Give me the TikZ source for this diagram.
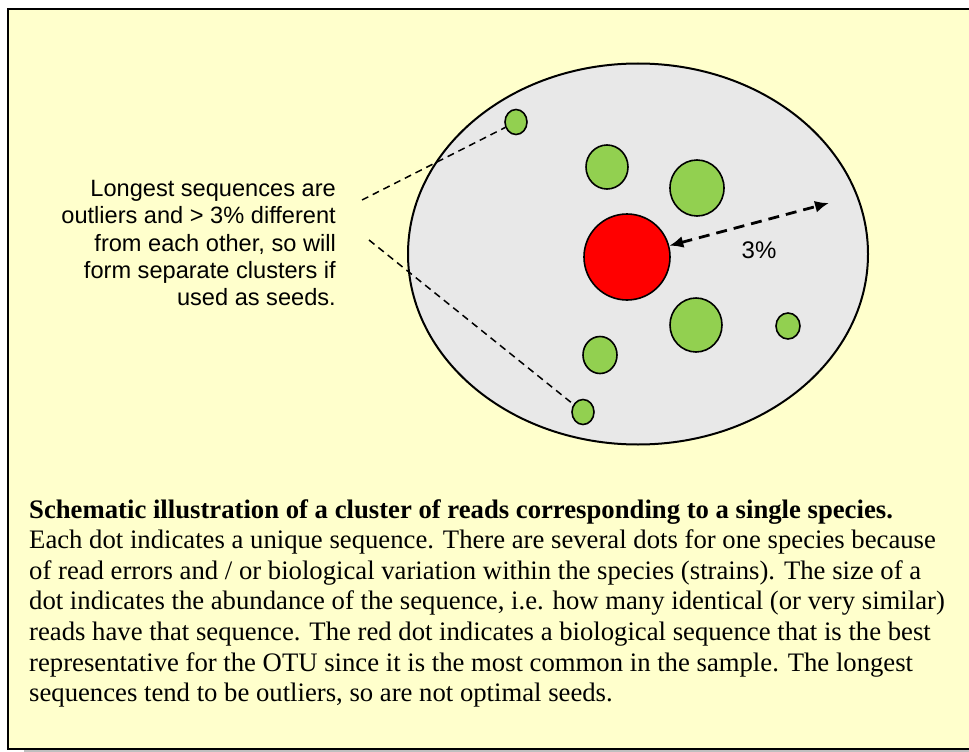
\documentclass[tikz,border=0pt]{standalone}
\usepackage{fontspec}
\setmainfont{Liberation Serif}
\newfontfamily\arialfont{Liberation Sans}
\usetikzlibrary{positioning, arrows.meta, shapes.geometric}

\definecolor{notebg}{HTML}{FFFFCC}
\definecolor{clustergray}{HTML}{E8E8E8}
\definecolor{readgreen}{HTML}{92D050}

\begin{document}
\begin{tikzpicture}[
        x=1pt, y=-1pt,
        seqdot/.style={
            draw, 
            ellipse,
            line width=1.6pt,
            fill=readgreen,
            inner sep=0pt
        },
        leader/.style={
            line width=1.5pt,
            dash pattern=on 7pt off 5pt
        },
        dimarrow/.style={
            line width=2.8pt,
            dash pattern=on 11pt off 7pt,
            {Latex[length=14pt,width=12pt]}-{Latex[length=14pt,width=12pt]}
        }
    ]
        \useasboundingbox (0,0) rectangle (969,752);

        % Note background with shadow
        \fill[gray!50] (24,749) rectangle (975,752);
        \draw[fill=notebg, line width=2.2pt] (8,9) rectangle (975,749);

        % The cluster
        \node[draw, ellipse, line width=2pt, fill=clustergray,
              minimum width=460pt, minimum height=381pt] (cluster) at (638,254) {};

        % Centroid and the other reads
        \node[seqdot, fill=red, minimum width=86pt, minimum height=86pt] (centroid) at (627,257) {};
        \node[seqdot, minimum width=22pt, minimum height=25pt] (far1) at (516,122) {};
        \node[seqdot, minimum width=42pt, minimum height=44pt] (read1) at (607,167) {};
        \node[seqdot, minimum width=54pt, minimum height=56pt] (read2) at (697,188) {};
        \node[seqdot, minimum width=52pt, minimum height=54pt] (read3) at (696,325) {};
        \node[seqdot, minimum width=24pt, minimum height=26pt] (read4) at (788,326) {};
        \node[seqdot, minimum width=34pt, minimum height=37pt] (read5) at (600,355) {};
        \node[seqdot, minimum width=22pt, minimum height=25pt] (far2) at (583,412) {};

        % 3% radius
        \coordinate (rim) at (829,203);
        \draw[dimarrow] (centroid) -- (rim);
        \node[font=\arialfont\fontsize{24}{28}\selectfont] (pct) at (759,250) {3\%};

        % Text about the outliers
        \node[font=\arialfont\fontsize{23.6}{27.2}\selectfont, align=right, anchor=east,
              inner sep=0pt] (outliertext) at (336,243)
            {Longest sequences are\\ outliers and > 3\% different\\ from each other, so will\\
             form separate clusters if\\ used as seeds.};
        \coordinate (lead1) at (362,200);
        \coordinate (lead2) at (369,240);
        \draw[leader] (lead1) -- (far1);
        \draw[leader] (lead2) -- (far2);

        % Caption
        \node[font=\fontsize{26.7}{30.6}\selectfont, align=left, anchor=north west,
              inner sep=0pt] (caption) at (29,499)
            {\textbf{Schematic illustration of a cluster of reads corresponding to a single species.}\\
             Each dot indicates a unique sequence. There are several dots for one species because\\
             of read errors and / or biological variation within the species (strains). The size of a\\
             dot indicates the abundance of the sequence, i.e. how many identical (or very similar)\\
             reads have that sequence. The red dot indicates a biological sequence that is the best\\
             representative for the OTU since it is the most common in the sample. The longest\\
             sequences tend to be outliers, so are not optimal seeds.};

    \end{tikzpicture}
\end{document}
